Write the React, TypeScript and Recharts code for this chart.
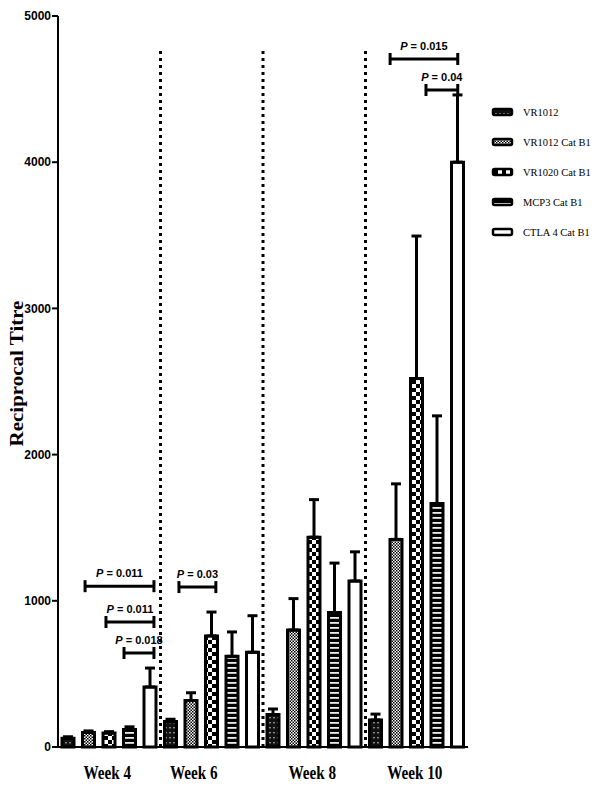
import React from 'react';
import { BarChart, Bar, Cell, XAxis, YAxis, ErrorBar, ReferenceLine } from 'recharts';

const weeks = ['Week 4', 'Week 6', 'Week 8', 'Week 10'];
const seriesNames = ['VR1012', 'VR1012 Cat B1', 'VR1020 Cat B1', 'MCP3 Cat B1', 'CTLA 4 Cat B1'];

// mean titre per week
const vr1012 = [60, 175, 222, 185];
const vr1012CatB1 = [100, 318, 800, 1420];
const vr1020CatB1 = [95, 760, 1435, 2520];
const mcp3CatB1 = [120, 620, 920, 1665];
const ctla4CatB1 = [410, 648, 1135, 4000];

// upper error (SEM) per week
const vr1012Err = [10, 15, 38, 40];
const vr1012CatB1Err = [10, 53, 215, 380];
const vr1020CatB1Err = [10, 163, 257, 975];
const mcp3CatB1Err = [18, 167, 338, 600];
const ctla4CatB1Err = [130, 250, 200, 460];

const yTicks = [0, 1000, 2000, 3000, 4000, 5000];

// week separators, in bar slots (20 slots across the x axis)
const dividers = [5, 10, 15];
const dividerTop = 4780;

// significance brackets: start / end slot, height, p value
const brackets = [
  { from: 1.32, to: 4.68, y: 1100, p: '0.011' },
  { from: 2.34, to: 4.68, y: 855, p: '0.011' },
  { from: 3.22, to: 4.68, y: 643, p: '0.018' },
  { from: 5.9, to: 7.7, y: 1094, p: '0.03' },
  { from: 16.2, to: 19.5, y: 4706, p: '0.015' },
  { from: 17.95, to: 19.5, y: 4494, p: '0.04' },
];

const means = [vr1012, vr1012CatB1, vr1020CatB1, mcp3CatB1, ctla4CatB1];
const errs = [vr1012Err, vr1012CatB1Err, vr1020CatB1Err, mcp3CatB1Err, ctla4CatB1Err];

const data = weeks.flatMap((w, wi) =>
  seriesNames.map((s, si) => ({
    key: `${w}|${s}`,
    week: w,
    series: si,
    value: means[si][wi],
    err: [0, errs[si][wi]],
    slot: wi * 5 + si + 0.5,
  }))
);

const SANS = '"Liberation Sans", Arial, sans-serif';
const SERIF = '"Liberation Serif", "Times New Roman", serif';

function Patterns({ id }: { id: string }) {
  return (
    <defs>
      <pattern id={`${id}-0`} width="4" height="5" patternUnits="userSpaceOnUse">
        <rect width="4" height="5" fill="#111" />
        <rect x="1.3" y="2" width="1.4" height="1.4" fill="#bbb" />
      </pattern>
      <pattern id={`${id}-1`} width="3" height="3" patternUnits="userSpaceOnUse">
        <rect width="3" height="3" fill="#fff" />
        <rect width="1.5" height="1.5" fill="#000" />
        <rect x="1.5" y="1.5" width="1.5" height="1.5" fill="#000" />
      </pattern>
      <pattern id={`${id}-2`} width="8" height="8" patternUnits="userSpaceOnUse">
        <rect width="8" height="8" fill="#fff" />
        <rect width="4" height="4" fill="#000" />
        <rect x="4" y="4" width="4" height="4" fill="#000" />
      </pattern>
      <pattern id={`${id}-3`} width="4" height="5" patternUnits="userSpaceOnUse">
        <rect width="4" height="5" fill="#000" />
        <rect y="2" width="4" height="1.8" fill="#eee" />
      </pattern>
      <pattern id={`${id}-4`} width="4" height="4" patternUnits="userSpaceOnUse">
        <rect width="4" height="4" fill="#fff" />
      </pattern>
    </defs>
  );
}

const makeBracket = (p: string) => (props: any) => {
  const { x1, y1, x2 } = props;
  const cx = (x1 + x2) / 2;
  return (
    <g>
      <line x1={x1} y1={y1} x2={x2} y2={y1} stroke="#000" strokeWidth={3} />
      <line x1={x1} y1={y1 - 6} x2={x1} y2={y1 + 6} stroke="#000" strokeWidth={3} />
      <line x1={x2} y1={y1 - 6} x2={x2} y2={y1 + 6} stroke="#000" strokeWidth={3} />
      <text x={cx} y={y1 - 9} textAnchor="middle" fontFamily={SANS} fontWeight="bold" fontSize={11} fill="#000">
        <tspan fontStyle="italic">P</tspan>
        {` = ${p}`}
      </text>
    </g>
  );
};

function WeekTick(props: any) {
  const { x, y, payload, index } = props;
  const i = typeof index === 'number' ? index : data.findIndex((d) => d.key === payload.value);
  if (i % 5 !== 2) return null;
  const week = data[i].week;
  const dx = week === 'Week 6' ? -18 : -2;
  return (
    <g transform={`translate(${x + dx},${y + 24}) scale(0.8,1)`}>
      <text textAnchor="middle" fontFamily={SERIF} fontWeight="bold" fontSize={19} fill="#000">
        {week}
      </text>
    </g>
  );
}

function YLabel(props: any) {
  const vb = props.viewBox || { x: 0, y: 0, height: 0 };
  const cx = vb.x + 17;
  const cy = vb.y + vb.height / 2 - 8;
  return (
    <g transform={`translate(${cx},${cy}) rotate(-90) scale(1,0.85)`}>
      <text
        x={0}
        y={0}
        textAnchor="middle"
        dominantBaseline="central"
        fontFamily={SERIF}
        fontWeight="bold"
        fontSize={21}
        fill="#000"
      >
        Reciprocal Titre
      </text>
    </g>
  );
}

function LegendBox() {
  return (
    <div style={{ position: 'absolute', left: 490, top: 102, fontFamily: SERIF, fontSize: 10.5, color: '#000' }}>
      {seriesNames.map((s, i) => (
        <div key={s} style={{ display: 'flex', alignItems: 'center', height: 20, marginBottom: 10 }}>
          <svg width={26} height={12} style={{ marginRight: 7 }}>
            <Patterns id={`lg${i}`} />
            <rect x={3} y={3} width={19} height={6} rx={1.5} fill={`url(#lg${i}-${i})`} stroke="#000" strokeWidth={2.5} />
          </svg>
          <span>{s}</span>
        </div>
      ))}
    </div>
  );
}

export default function App() {
  return (
    <div style={{ position: 'absolute', left: 0, top: 0, width: 600, height: 789, background: '#fff' }}>
      <BarChart width={600} height={789} data={data} margin={{ top: 16, right: 132, bottom: 12, left: 0 }}>
        <Patterns id="pat" />
        <XAxis
          dataKey="key"
          type="category"
          interval={0}
          tickLine={false}
          axisLine={{ stroke: '#000', strokeWidth: 2 }}
          tick={<WeekTick />}
          height={30}
        />
        <XAxis xAxisId="slots" type="number" dataKey="slot" domain={[0, 20]} allowDataOverflow hide />
        <YAxis
          type="number"
          domain={[0, 5000]}
          ticks={yTicks}
          width={58}
          interval={0}
          tickSize={6}
          tickMargin={1}
          axisLine={{ stroke: '#000', strokeWidth: 2 }}
          tickLine={{ stroke: '#000', strokeWidth: 2 }}
          tick={{ fill: '#000', fontFamily: SANS, fontWeight: 'bold', fontSize: 12 }}
          label={<YLabel />}
        />
        {dividers.map((d) => (
          <ReferenceLine
            key={`div${d}`}
            xAxisId="slots"
            segment={[{ x: d, y: 0 }, { x: d, y: dividerTop }]}
            stroke="#000"
            strokeWidth={3}
            strokeDasharray="3 4"
          />
        ))}
        <Bar dataKey="value" barSize={12} stroke="#000" strokeWidth={3} isAnimationActive={false}>
          {data.map((d) => (
            <Cell key={d.key} fill={`url(#pat-${d.series})`} />
          ))}
          <ErrorBar dataKey="err" direction="y" width={5} stroke="#000" strokeWidth={3} isAnimationActive={false} />
        </Bar>
        {brackets.map((b, i) => (
          <ReferenceLine
            key={`br${i}`}
            xAxisId="slots"
            segment={[{ x: b.from, y: b.y }, { x: b.to, y: b.y }]}
            shape={makeBracket(b.p)}
          />
        ))}
      </BarChart>
      <LegendBox />
    </div>
  );
}
